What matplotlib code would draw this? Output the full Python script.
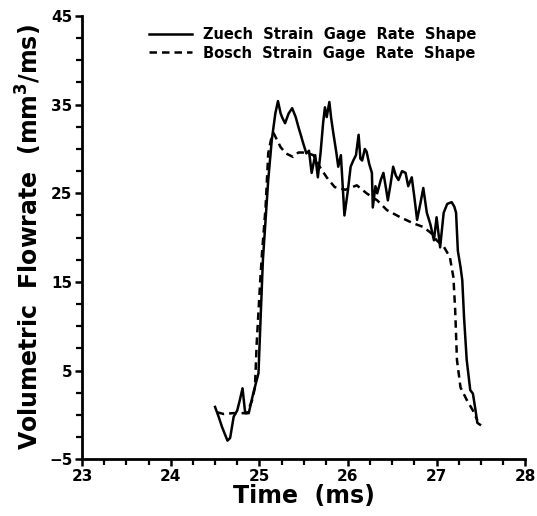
import numpy as np
import matplotlib.pyplot as plt

# Zuech strain gage rate shape (solid)
t_zuech = [24.50, 24.54, 24.58, 24.64, 24.67, 24.71, 24.75, 24.78, 24.81, 24.84,
           24.88, 24.93, 24.99, 25.01, 25.04, 25.10, 25.14, 25.18, 25.21, 25.24,
           25.26, 25.29, 25.33, 25.37, 25.41, 25.44, 25.47, 25.49, 25.53, 25.56,
           25.59, 25.63, 25.66, 25.69, 25.72, 25.74, 25.76, 25.79, 25.81, 25.83,
           25.87, 25.89, 25.92, 25.96, 26.00, 26.03, 26.06, 26.09, 26.12, 26.14,
           26.16, 26.19, 26.21, 26.24, 26.27, 26.28, 26.31, 26.33, 26.37, 26.40,
           26.43, 26.45, 26.48, 26.51, 26.54, 26.57, 26.61, 26.65, 26.68, 26.72,
           26.75, 26.78, 26.82, 26.85, 26.89, 26.93, 26.97, 27.00, 27.04, 27.08,
           27.12, 27.17, 27.20, 27.22, 27.24, 27.27, 27.29, 27.31, 27.34, 27.38,
           27.41, 27.44, 27.46, 27.49]
q_zuech = [0.9, -0.2, -1.4, -2.9, -2.6, -0.2, 0.5, 1.7, 3.0, 0.2,
           0.2, 2.4, 4.7, 9.9, 17.5, 26.5, 31.0, 34.0, 35.4, 34.0,
           33.5, 32.9, 34.0, 34.6, 33.6, 32.5, 31.5, 30.8, 29.5, 29.8,
           27.3, 29.3, 26.8, 29.5, 33.0, 34.7, 33.6, 35.3, 33.5, 32.1,
           29.5, 28.0, 29.3, 22.5, 25.4, 28.0, 28.7, 29.3, 31.6, 28.9,
           28.7, 30.0, 29.7, 28.3, 27.3, 23.4, 25.8, 25.0, 26.5, 27.3,
           25.5, 24.2, 26.0, 28.0, 27.0, 26.5, 27.5, 27.3, 25.8, 26.8,
           24.5, 22.0, 24.0, 25.6, 22.8, 21.5, 19.7, 22.3, 18.9, 22.8,
           23.8, 24.0, 23.5, 22.8, 18.5, 16.7, 15.2, 11.0, 6.2, 2.8,
           2.4, 0.5, -0.9, -1.1]

# Bosch strain gage rate shape (dashed)
t_bosch = [24.52, 24.60, 24.70, 24.80, 24.86, 24.92, 24.95, 24.97, 25.01, 25.03,
           25.07, 25.10, 25.13, 25.16, 25.20, 25.24, 25.30, 25.38, 25.44, 25.49,
           25.55, 25.61, 25.68, 25.76, 25.85, 25.97, 26.10, 26.21, 26.33, 26.44,
           26.59, 26.74, 26.85, 26.94, 27.00, 27.08, 27.15, 27.19, 27.21, 27.23,
           27.27, 27.34, 27.41, 27.46]
q_bosch = [0.3, 0.1, 0.2, 0.2, 0.2, 1.7, 3.1, 8.1, 15.2, 18.3,
           23.4, 29.5, 31.0, 31.8, 31.0, 30.2, 29.5, 29.1, 29.6, 29.6,
           29.5, 29.3, 28.0, 26.8, 25.7, 25.4, 25.9, 25.0, 24.2, 23.1,
           22.3, 21.6, 21.2, 20.5, 19.7, 19.0, 17.8, 15.5, 11.8, 6.2,
           3.1, 1.7, 0.5, -0.6]

fig = plt.figure(figsize=(5.37, 5.16), dpi=100)
ax = fig.add_axes([0.153, 0.110, 0.825, 0.859])

ax.plot(t_zuech, q_zuech, color='black', linewidth=1.8,
        label='Zuech  Strain  Gage  Rate  Shape')
ax.plot(t_bosch, q_bosch, color='black', linewidth=1.8, linestyle=(0, (3, 2)),
        label='Bosch  Strain  Gage  Rate  Shape')

ax.set_xlim(23, 28)
ax.set_ylim(-5, 45)
ax.set_xticks(np.arange(23, 28.1, 1))
ax.set_yticks(np.arange(-5, 45.1, 10))
ax.set_xticks(np.arange(23, 28.01, 0.25), minor=True)
ax.set_yticks(np.arange(-5, 45.01, 2.5), minor=True)
ax.tick_params(axis='both', which='major', direction='out', length=5, width=1.8,
               labelsize=11, pad=2)
ax.tick_params(axis='both', which='minor', direction='out', length=4, width=1.6)
for lab in ax.get_xticklabels() + ax.get_yticklabels():
    lab.set_fontweight('bold')

for s in ['top', 'right']:
    ax.spines[s].set_visible(False)
for s in ['left', 'bottom']:
    ax.spines[s].set_linewidth(2)

ax.set_xlabel('Time  (ms)', fontsize=17, fontweight='bold', labelpad=0)
ax.set_ylabel('Volumetric  Flowrate  (mm$^\\mathbf{3}$/ms)', fontsize=17,
              fontweight='bold', labelpad=4)

ax.legend(loc='upper right', frameon=False, handlelength=3.0,
          handletextpad=0.75, labelspacing=0.25,
          prop={'weight': 'bold', 'size': 10.5},
          bbox_to_anchor=(0.92, 1.005))

plt.savefig('out.png', dpi=100)
